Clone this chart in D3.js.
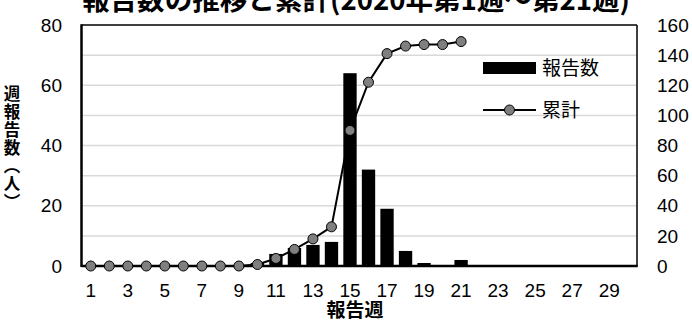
<!DOCTYPE html>
<html><head><meta charset="utf-8">
<script src="https://cdn.jsdelivr.net/npm/d3@7"></script>
<style>
html,body{margin:0;padding:0;background:#fff;}
svg{display:block;font-family:"Liberation Sans","Noto Sans CJK JP",sans-serif;}
</style></head>
<body>
<script>
// ---- data ----
const weeks = d3.range(1, 31);                 // x categories 1..30
const weeklyReports = [0,0,0,0,0,0,0,0,0,1,4,6,7,8,64,32,19,5,1,0,2]; // weeks 1..21
const cumulative    = [0,0,0,0,0,0,0,0,0,1,5,11,18,26,90,122,141,146,147,147,149];
const xTickLabels = [1,3,5,7,9,11,13,15,17,19,21,23,25,27,29];
const leftTicks = [0,20,40,60,80];
const rightTicks = [0,20,40,60,80,100,120,140,160];
const titleText = "報告数の推移と累計(2020年第1週～第21週)";
const yTitleChars = ["週","報","告","数","︵","人","︶"];
const xTitle = "報告週";
const legendBar = "報告数", legendLine = "累計";

const W = 692, H = 322;
const L = 81.5, R = 637, T = 25, B = 266;

const svg = d3.select("body").append("svg").attr("width", W).attr("height", H);

const x = d3.scaleBand().domain(weeks).range([L, R]).paddingInner(0.28).paddingOuter(0.14);
const xc = d => x(d) + x.bandwidth() / 2;
const yL = d3.scaleLinear().domain([0, 80]).range([B, T]);
const yR = d3.scaleLinear().domain([0, 160]).range([B, T]);

// gridlines
svg.append("g").selectAll("line").data(rightTicks.slice(1, -1)).join("line")
  .attr("x1", L).attr("x2", R).attr("y1", d => yR(d)).attr("y2", d => yR(d))
  .attr("stroke", "#d9d9d9").attr("stroke-width", 1.5);

// bars
const barData = weeklyReports.map((v, i) => ({ w: weeks[i], v }));
svg.append("g").selectAll("rect").data(barData).join("rect")
  .attr("x", d => x(d.w)).attr("width", x.bandwidth())
  .attr("y", d => yL(d.v)).attr("height", d => yL(0) - yL(d.v))
  .attr("fill", "#000");

// frame
svg.append("line").attr("x1", L).attr("x2", R).attr("y1", T).attr("y2", T).attr("stroke", "#000").attr("stroke-width", 1.5);
svg.append("line").attr("x1", R).attr("x2", R).attr("y1", T).attr("y2", B).attr("stroke", "#000").attr("stroke-width", 1.5);
svg.append("line").attr("x1", L).attr("x2", L).attr("y1", T - 0.75).attr("y2", B + 1).attr("stroke", "#000").attr("stroke-width", 2.5);
svg.append("line").attr("x1", L).attr("x2", R + 0.75).attr("y1", B).attr("y2", B).attr("stroke", "#000").attr("stroke-width", 2.5);

// cumulative line
const cumData = cumulative.map((v, i) => ({ w: weeks[i], v }));
svg.append("path").datum(cumData)
  .attr("d", d3.line().x(d => xc(d.w)).y(d => yR(d.v)))
  .attr("fill", "none").attr("stroke", "#000").attr("stroke-width", 2);
svg.append("g").selectAll("circle").data(cumData).join("circle")
  .attr("cx", d => xc(d.w)).attr("cy", d => yR(d.v)).attr("r", 5)
  .attr("fill", "#7f7f7f").attr("stroke", "#000").attr("stroke-width", 1);

// axes labels
const fs = 19;
svg.append("g").selectAll("text").data(leftTicks).join("text")
  .attr("x", 62).attr("y", d => yL(d)).attr("dy", "0.35em")
  .attr("text-anchor", "end").attr("font-size", fs).attr("fill", "#000").text(d => d);
svg.append("g").selectAll("text").data(rightTicks).join("text")
  .attr("x", 657).attr("y", d => yR(d)).attr("dy", "0.35em")
  .attr("text-anchor", "start").attr("font-size", fs).attr("fill", "#000").text(d => d);
svg.append("g").selectAll("text").data(xTickLabels).join("text")
  .attr("x", d => xc(d)).attr("y", 297)
  .attr("text-anchor", "middle").attr("font-size", fs).attr("fill", "#000").text(d => d);

// titles
svg.append("text").attr("x", 356).attr("y", 10).attr("text-anchor", "middle")
  .attr("font-size", 27.5).attr("font-weight", "bold").attr("font-family", "Noto Sans CJK JP")
  .attr("textLength", 548).attr("lengthAdjust", "spacingAndGlyphs")
  .text(titleText);
svg.append("text").attr("x", 355).attr("y", 317).attr("text-anchor", "middle")
  .attr("font-size", 19).attr("font-weight", "bold").attr("font-family", "Noto Sans CJK JP")
  .text(xTitle);
svg.append("g").selectAll("text").data(yTitleChars).join("text")
  .attr("x", 12).attr("y", (d, i) => 94 + i * 18).attr("dy", "0.36em")
  .attr("text-anchor", "middle")
  .attr("font-size", 16.5).attr("font-weight", "bold").attr("font-family", "Noto Sans CJK JP")
  .text(d => d);

// legend
const lg = svg.append("g");
lg.append("rect").attr("x", 483).attr("y", 62).attr("width", 53).attr("height", 12).attr("fill", "#000");
lg.append("text").attr("x", 542).attr("y", 68).attr("dy", "0.38em").attr("font-size", 19).attr("font-family", "Noto Sans CJK JP").text(legendBar);
lg.append("line").attr("x1", 483).attr("x2", 536).attr("y1", 110).attr("y2", 110).attr("stroke", "#000").attr("stroke-width", 2);
lg.append("circle").attr("cx", 509.5).attr("cy", 110).attr("r", 5).attr("fill", "#7f7f7f").attr("stroke", "#000").attr("stroke-width", 1);
lg.append("text").attr("x", 542).attr("y", 110).attr("dy", "0.38em").attr("font-size", 19).attr("font-family", "Noto Sans CJK JP").text(legendLine);
</script>
</body></html>
